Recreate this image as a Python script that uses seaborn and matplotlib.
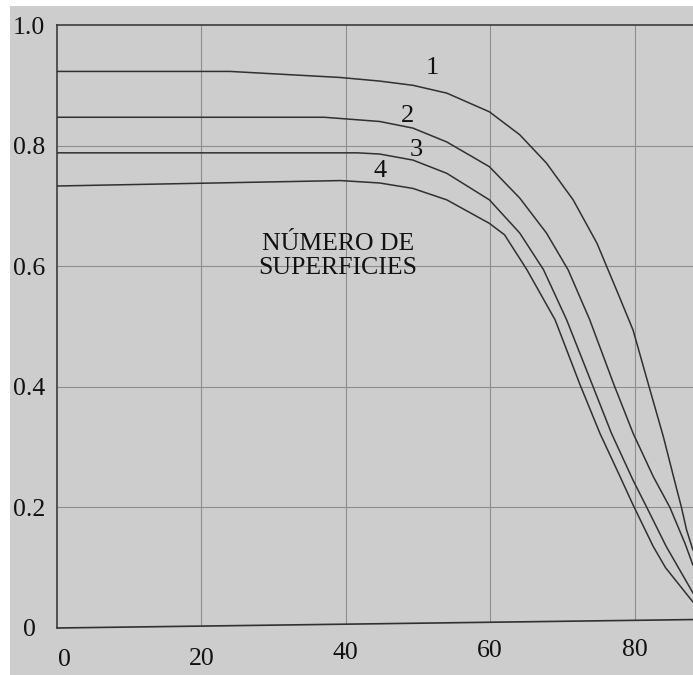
import numpy as np
import pandas as pd
import seaborn as sns
import matplotlib.pyplot as plt
from matplotlib.patches import Rectangle
from matplotlib.transforms import ScaledTranslation

# curves (x, y) -- one per number of surfaces
x1 = [0, 24, 39.2, 44.7, 49.3, 54.0, 59.9, 64.1, 67.8, 71.5, 74.8, 77.7, 79.8, 81.9, 84.0, 85.4, 86.5, 87.2, 88.1]
y1 = [0.923, 0.923, 0.913, 0.907, 0.900, 0.887, 0.856, 0.818, 0.771, 0.710, 0.638, 0.555, 0.494, 0.405,
      0.317, 0.251, 0.200, 0.163, 0.129]

x2 = [0, 37, 44.7, 49.3, 54.0, 59.9, 64.1, 67.8, 70.8, 73.8, 77.1, 79.8, 82.6, 84.9, 87.0, 88.1]
y2 = [0.847, 0.847, 0.840, 0.829, 0.806, 0.765, 0.713, 0.655, 0.594, 0.511, 0.405, 0.323, 0.251, 0.200,
      0.140, 0.104]

x3 = [0, 41.6, 44.7, 49.3, 54.0, 59.9, 64.1, 67.4, 70.6, 74.1, 76.8, 79.8, 81.7, 84.4, 88.1]
y3 = [0.788, 0.788, 0.786, 0.776, 0.754, 0.710, 0.655, 0.594, 0.511, 0.405, 0.323, 0.245, 0.200, 0.135, 0.058]

x4 = [0, 39.3, 44.7, 49.3, 54.0, 59.9, 62.0, 65.1, 69.0, 72.4, 75.2, 78.0, 79.8, 82.6, 84.3, 88.1]
y4 = [0.733, 0.742, 0.738, 0.729, 0.710, 0.671, 0.652, 0.594, 0.511, 0.405, 0.323, 0.251, 0.204, 0.135,
      0.100, 0.043]

curve_names = ['1', '2', '3', '4']
label_x = [52.0, 48.6, 49.8, 44.8]
label_y = [0.928, 0.849, 0.793, 0.758]

# slanted base line of the drawing
base_x = [0, 88.1]
base_y = [0.0, 0.014]

x_ticks = [0, 20, 40, 60, 80]
y_ticks = [0, 0.2, 0.4, 0.6, 0.8, 1.0]
y_tick_labels = ['0', '0.2', '0.4', '0.6', '0.8', '1.0']

annotation = 'NÚMERO DE\nSUPERFICIES'

bg = '#cdcdcd'
line_col = '#303030'
grid_col = '#8e8e8e'

df = pd.concat([
    pd.DataFrame({'x': xs, 'y': ys, 'curve': name})
    for name, xs, ys in zip(curve_names, [x1, x2, x3, x4], [y1, y2, y3, y4])
], ignore_index=True)

sns.set_style('white')
plt.rcParams['font.family'] = ['Liberation Serif', 'DejaVu Serif']

fig = plt.figure(figsize=(6.93, 6.75), dpi=100, facecolor='white')
fig.patches.append(Rectangle((10 / 693, 0), 1, 1 - 6 / 675, transform=fig.transFigure,
                             facecolor=bg, edgecolor='none', zorder=-10))
ax = fig.add_axes([57 / 693, 47 / 675, 1 - 57 / 693, 603 / 675])
ax.set_facecolor(bg)

sns.lineplot(data=df, x='x', y='y', hue='curve', units='curve', estimator=None,
             palette=[line_col] * 4, linewidth=1.1, legend=False, sort=False, ax=ax)

ax.set_xlim(0, 88.1)
ax.set_ylim(0, 1.0)

# grid: vertical lines stop on the slanted base line
for xv in x_ticks[1:]:
    ax.vlines(xv, np.interp(xv, base_x, base_y), 1.0, color=grid_col, lw=0.8, zorder=0)
for yv in y_ticks[1:-1]:
    ax.hlines(yv, 0, 88.1, color=grid_col, lw=0.8, zorder=0)

ax.plot(base_x, base_y, color=line_col, lw=1.2, clip_on=False)

for name, lx, ly in zip(curve_names, label_x, label_y):
    ax.text(lx, ly, name, fontsize=19, ha='center', va='center', color='#111111')

ax.text(38.9, 0.617, annotation, fontsize=18.5, ha='center', va='center',
        color='#111111', linespacing=1.15)

for side in ['right', 'bottom']:
    ax.spines[side].set_visible(False)
for side in ['left', 'top']:
    ax.spines[side].set_color(line_col)
    ax.spines[side].set_linewidth(1.1)

ax.set_xticks(x_ticks)
ax.set_xticklabels([str(v) for v in x_ticks])
ax.set_yticks(y_ticks)
ax.set_yticklabels(y_tick_labels)
ax.tick_params(axis='both', length=0, labelsize=18.5, labelcolor='#111111')
ax.tick_params(axis='x', pad=15)
ax.tick_params(axis='y', pad=20)
for lab in ax.get_yticklabels():
    lab.set_horizontalalignment('center')
ax.set_xlabel('')
ax.set_ylabel('')

# x labels follow the slant of the base line
x_shift = [7, 0, 0, 0, 0]
y_shift = [0, 1, 6.7, 9, 10]
for lab, dx, dy in zip(ax.get_xticklabels(), x_shift, y_shift):
    lab.set_transform(lab.get_transform() + ScaledTranslation(dx / 100, dy / 100, fig.dpi_scale_trans))

fig.savefig('out.png', dpi=100, facecolor='white')
